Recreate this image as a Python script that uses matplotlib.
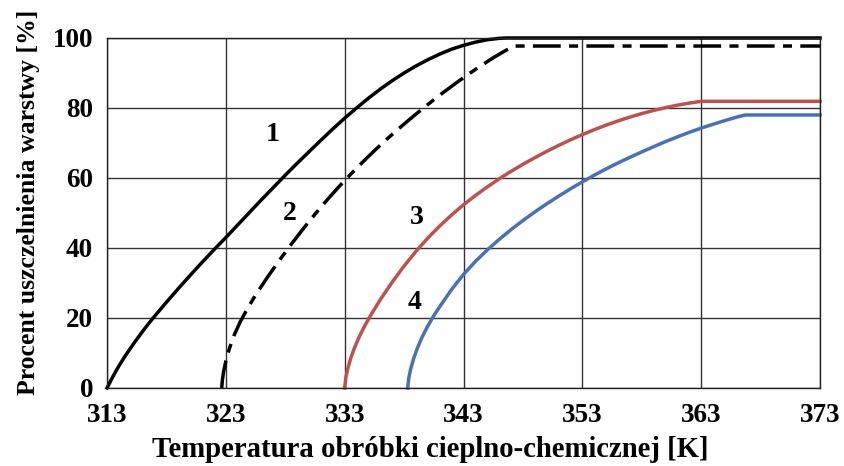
import matplotlib
matplotlib.use("Agg")
import matplotlib.pyplot as plt

# Curve 1 (solid black)
t1 = [313.0, 313.5, 314.0, 314.5, 315.0, 315.5, 316.0, 316.5, 317, 318, 319, 320,
      321, 322, 323, 324, 325, 326, 327, 328, 329, 330, 331, 332, 333, 334, 335,
      336, 337, 338, 339, 340, 341, 342, 343, 344, 345, 346, 346.6, 373]
p1 = [0, 3.3, 6.3, 9.0, 11.5, 13.9, 16.2, 18.4, 20.5, 24.5, 28.4, 32.2,
      35.9, 39.5, 43.0, 46.6, 50.2, 53.8, 57.3, 60.8, 64.2, 67.5, 70.8, 74.0, 77.1, 80.0, 82.8,
      85.4, 87.8, 90.0, 92.0, 93.8, 95.4, 96.8, 97.9, 98.8, 99.5, 99.9, 100, 100]

# Curve 2 (dash-dot black)
t2 = [322.65, 322.7, 322.8, 323.0, 323.3, 323.7, 324.2, 324.8, 325.5, 326.5, 327.5,
      328.5, 329.5, 330.5, 331.5, 332.5, 333.5, 334.5, 335.5, 336.5, 337.5, 338.5,
      339.5, 340.5, 341.5, 342.5, 343.5, 344.5, 345.5, 346.5, 347.3, 373]
p2 = [0, 2.0, 4.5, 7.7, 11.3, 15.1, 18.85, 22.6, 26.55, 31.65, 36.45,
      41.05, 45.45, 49.65, 53.65, 57.45, 61.05, 64.5, 67.8, 70.95, 73.95, 76.85,
      79.65, 82.35, 84.95, 87.45, 89.85, 92.15, 94.35, 96.35, 97.7, 97.7]

# Curve 3 (red)
t3 = [333.0, 333.1, 333.25, 333.5, 333.8, 334.2, 334.7, 335.2, 336, 337, 338,
      339, 340, 341, 342, 343, 344, 345, 346, 347, 348, 349, 350, 351, 352, 353,
      354, 355, 356, 357, 358, 359, 360, 361, 362, 363, 373]
p3 = [0, 3.0, 5.4, 8.4, 11.25, 14.45, 17.85, 20.85, 25.25, 30.25, 34.85,
      39.05, 42.85, 46.3, 49.45, 52.35, 55.0, 57.45, 59.75, 61.9, 63.9, 65.8, 67.6, 69.3, 70.9, 72.4,
      73.8, 75.1, 76.3, 77.4, 78.4, 79.3, 80.1, 80.8, 81.4, 81.9, 81.9]

# Curve 4 (blue)
t4 = [338.3, 338.4, 338.55, 338.8, 339.1, 339.5, 340.0, 340.5, 341, 342, 343,
      344, 345, 346, 347, 348, 349, 350, 351, 352, 353, 354, 355, 356, 357, 358,
      359, 360, 361, 362, 363, 364, 365, 366, 366.7, 373]
p4 = [0, 3.0, 5.4, 8.4, 11.25, 14.45, 17.75, 20.65, 23.25, 28.15, 32.45,
      36.15, 39.45, 42.45, 45.25, 47.85, 50.3, 52.6, 54.8, 56.9, 58.9, 60.8, 62.6, 64.3, 65.9, 67.45,
      68.95, 70.4, 71.75, 73.05, 74.25, 75.35, 76.4, 77.4, 78.0, 78.0]

xticks = [313, 323, 333, 343, 353, 363, 373]
yticks = [0, 20, 40, 60, 80, 100]

labels = ["1", "2", "3", "4"]
label_pos = [(326.9, 72.3), (328.4, 49.8), (339.1, 48.6), (338.9, 24.3)]

plt.rcParams['font.family'] = ['Liberation Serif', 'DejaVu Serif']
plt.rcParams['font.weight'] = 'bold'

fig = plt.figure(figsize=(8.44, 4.66), dpi=100)
ax = fig.add_axes([0.1268, 0.1674, 0.9716 - 0.1268, 0.9185 - 0.1674])

ax.set_xlim(313, 373)
ax.set_ylim(0, 100)
ax.set_xticks(xticks)
ax.set_yticks(yticks)
ax.grid(True, color='#333333', linewidth=1.0)
ax.set_axisbelow(True)
for s in ax.spines.values():
    s.set_color('#222222')
    s.set_linewidth(1.0)

lw = 2.5
ax.plot(t1, p1, color='black', linewidth=lw, clip_on=False)
l2, = ax.plot(t2, p2, color='black', linewidth=lw, clip_on=False)
l2.set_dashes([8.0, 2.4, 2.6, 2.4])
ax.plot(t3, p3, color='#c0504d', linewidth=lw, clip_on=False)
ax.plot(t4, p4, color='#4a70b8', linewidth=lw, clip_on=False)

for lab, (x, y) in zip(labels, label_pos):
    ax.text(x, y, lab, fontsize=20, fontweight='bold', ha='center', va='center')

ax.tick_params(axis='both', length=0, labelsize=19.5)
ax.tick_params(axis='x', pad=11)
ax.tick_params(axis='y', pad=10)
for t in ax.get_xticklabels() + ax.get_yticklabels():
    t.set_fontweight('bold')

ax.set_xlabel('Temperatura obróbki cieplno-chemicznej [K]', fontsize=20.7,
              fontweight='bold')
ax.xaxis.set_label_coords(0.453, -0.138)
ax.set_ylabel('Procent uszczelnienia warstwy [%]', fontsize=18.5,
              fontweight='bold')
ax.yaxis.set_label_coords(-0.094, 0.53)

fig.savefig('out.png', dpi=100)
